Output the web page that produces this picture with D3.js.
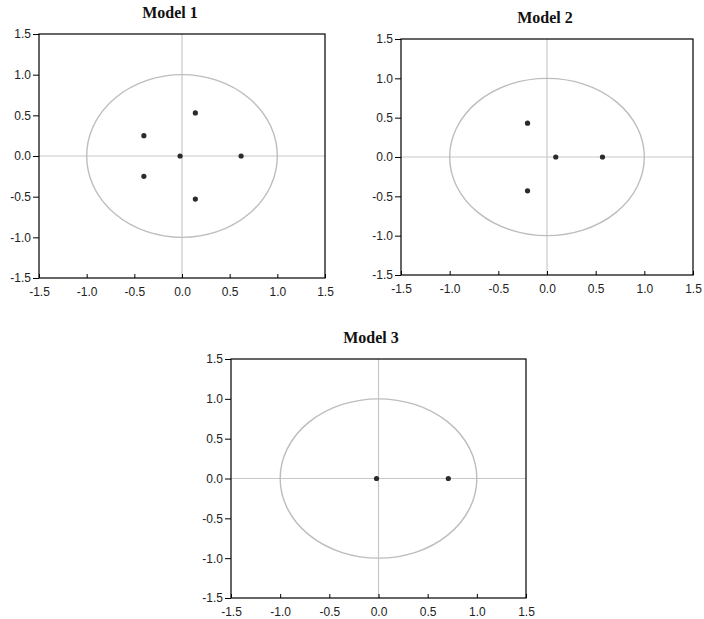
<!DOCTYPE html>
<html>
<head>
<meta charset="utf-8">
<script src="https://cdn.jsdelivr.net/npm/d3@7"></script>
<style>
  html, body { margin: 0; padding: 0; background: #fff; }
  svg { display: block; }
</style>
</head>
<body>
<svg id="chart" width="704" height="619"></svg>
<script>
// ---- data ----
const titles = ["Model 1", "Model 2", "Model 3"];
const tickValues = [-1.5, -1.0, -0.5, 0.0, 0.5, 1.0, 1.5];
const tickLabels = ["-1.5", "-1.0", "-0.5", "0.0", "0.5", "1.0", "1.5"];
const model1Re = [-0.02, 0.62, 0.14, 0.14, -0.40, -0.40];
const model1Im = [0.00, 0.00, 0.53, -0.53, 0.25, -0.25];
const model2Re = [0.09, 0.57, -0.20, -0.20];
const model2Im = [0.00, 0.00, 0.43, -0.43];
const model3Re = [-0.02, 0.71];
const model3Im = [0.00, 0.00];

// ---- layout ----
const frames = [
  { left: 39, top: 34, right: 325, bottom: 278, titleX: 170, titleY: 18 },
  { left: 401, top: 39, right: 693, bottom: 275, titleX: 545, titleY: 23 },
  { left: 231, top: 359, right: 526, bottom: 598, titleX: 371, titleY: 343 }
];
const series = [
  { re: model1Re, im: model1Im },
  { re: model2Re, im: model2Im },
  { re: model3Re, im: model3Im }
];

const svg = d3.select("#chart");

frames.forEach((f, i) => {
  const x = d3.scaleLinear().domain([-1.5, 1.5]).range([f.left, f.right]);
  const y = d3.scaleLinear().domain([-1.5, 1.5]).range([f.bottom, f.top]);
  const g = svg.append("g");

  // title
  g.append("text")
    .attr("x", f.titleX).attr("y", f.titleY)
    .attr("text-anchor", "middle")
    .attr("font-family", "Liberation Serif, Times New Roman, serif")
    .attr("font-weight", "bold")
    .attr("font-size", 16)
    .attr("fill", "#111")
    .text(titles[i]);

  // zero lines
  g.append("line")
    .attr("x1", x(-1.5)).attr("x2", x(1.5))
    .attr("y1", y(0)).attr("y2", y(0))
    .attr("stroke", "#c8c8c8").attr("stroke-width", 1.2);
  g.append("line")
    .attr("x1", x(0)).attr("x2", x(0))
    .attr("y1", y(-1.5)).attr("y2", y(1.5))
    .attr("stroke", "#c8c8c8").attr("stroke-width", 1.2);

  // unit circle
  g.append("ellipse")
    .attr("cx", x(0)).attr("cy", y(0))
    .attr("rx", x(1) - x(0)).attr("ry", y(0) - y(1))
    .attr("fill", "none")
    .attr("stroke", "#bdbdbd").attr("stroke-width", 1.4);

  // frame
  g.append("rect")
    .attr("x", f.left).attr("y", f.top)
    .attr("width", f.right - f.left).attr("height", f.bottom - f.top)
    .attr("fill", "none").attr("stroke", "#000").attr("stroke-width", 1.2);

  // y axis (ticks outward)
  const yAxis = d3.axisLeft(y).tickValues(tickValues)
    .tickFormat((d, k) => tickLabels[k]).tickSize(6).tickPadding(2);
  const ya = g.append("g").attr("transform", `translate(${f.left},0)`).call(yAxis);
  ya.select(".domain").remove();
  ya.selectAll("line").attr("stroke", "#000");
  ya.selectAll("text")
    .attr("font-family", "Liberation Sans, Arial, sans-serif")
    .attr("font-size", 12).attr("fill", "#222");

  // x axis (ticks inward)
  const xAxis = d3.axisBottom(x).tickValues(tickValues)
    .tickFormat((d, k) => tickLabels[k]).tickSize(-4).tickPadding(9);
  const xa = g.append("g").attr("transform", `translate(0,${f.bottom})`).call(xAxis);
  xa.select(".domain").remove();
  xa.selectAll("line").attr("stroke", "#000");
  xa.selectAll("text")
    .attr("font-family", "Liberation Sans, Arial, sans-serif")
    .attr("font-size", 12).attr("fill", "#222");

  // roots
  const s = series[i];
  g.selectAll("circle.root")
    .data(s.re.map((r, k) => ({ re: r, im: s.im[k] })))
    .enter().append("circle")
    .attr("class", "root")
    .attr("cx", d => x(d.re)).attr("cy", d => y(d.im))
    .attr("r", 2.6)
    .attr("fill", "#2b2b2b");
});
</script>
</body>
</html>
